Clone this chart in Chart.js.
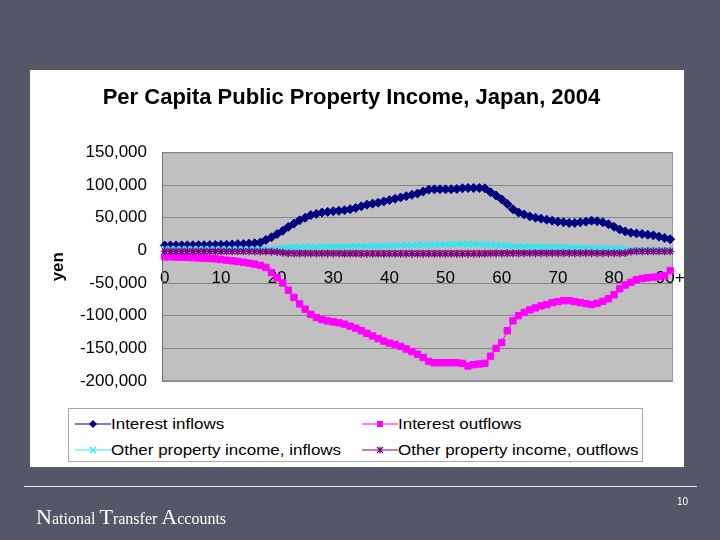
<!DOCTYPE html>
<html><head><meta charset="utf-8">
<script src="https://cdn.jsdelivr.net/npm/chart.js@4.4.0/dist/chart.umd.min.js"></script>
<style>
html,body{margin:0;padding:0;}
body{width:720px;height:540px;background:#555767;position:relative;overflow:hidden;font-family:"Liberation Sans",Arial,sans-serif;}
#c{position:absolute;left:0;top:0;}
#legend{position:absolute;left:68px;top:408px;width:575px;height:54px;border:1px solid #a8a8a8;background:#fff;box-sizing:border-box;}
.item{position:absolute;height:20px;display:flex;align-items:center;white-space:nowrap;}
.item svg{display:block;}
.item span{font-size:14.5px;color:#000;display:inline-block;transform:scaleX(1.17);transform-origin:left center;margin-left:0px;}
#rule{position:absolute;left:24px;top:486px;width:673px;height:1px;background:#e6e6e6;}
#nta{position:absolute;left:36px;top:504px;font-family:"Liberation Serif","Times New Roman",serif;color:#fff;font-size:16px;line-height:26px;white-space:nowrap;}
#nta b{font-weight:normal;font-size:22px;}
#pg{position:absolute;left:677px;top:496px;font-size:10px;color:#fff;}
</style></head>
<body>
<canvas id="c" width="720" height="540"></canvas>
<div id="legend">
  <div class="item" style="left:6px;top:5px;"><svg width="36" height="12"><line x1="0" y1="6" x2="36" y2="6" stroke="#000080" stroke-width="1.2"/><polygon points="18,2 22,6 18,10 14,6" fill="#000080"/></svg><span>Interest inflows</span></div>
  <div class="item" style="left:293px;top:5px;"><svg width="36" height="12"><line x1="0" y1="6" x2="36" y2="6" stroke="#ff00ff" stroke-width="1.2"/><rect x="15" y="3" width="6" height="6" fill="#ff00ff"/></svg><span>Interest outflows</span></div>
  <div class="item" style="left:6px;top:31px;"><svg width="36" height="12"><line x1="0" y1="6" x2="36" y2="6" stroke="#2ee6f0" stroke-width="1.2"/><path d="M15 3 L21 9 M21 3 L15 9" stroke="#2ee6f0" stroke-width="1.2"/></svg><span>Other property income, inflows</span></div>
  <div class="item" style="left:293px;top:31px;"><svg width="36" height="12"><line x1="0" y1="6" x2="36" y2="6" stroke="#800080" stroke-width="1.2"/><path d="M15 3 L21 9 M21 3 L15 9 M18 2.5 L18 9.5" stroke="#800080" stroke-width="1.2"/></svg><span>Other property income, outflows</span></div>
</div>
<div id="rule"></div>
<div id="nta"><b>N</b>ational <b>T</b>ransfer <b>A</b>ccounts</div>
<div id="pg">10</div>
<script>
const ageLabels = ['0','1','2','3','4','5','6','7','8','9','10','11','12','13','14','15','16','17','18','19','20','21','22','23','24','25','26','27','28','29','30','31','32','33','34','35','36','37','38','39','40','41','42','43','44','45','46','47','48','49','50','51','52','53','54','55','56','57','58','59','60','61','62','63','64','65','66','67','68','69','70','71','72','73','74','75','76','77','78','79','80','81','82','83','84','85','86','87','88','89','90+'];
const xTickLabels = ['0','10','20','30','40','50','60','70','80','90+'];

const interestInflows = [7500,7500,7600,7600,7700,7800,7800,7900,8000,8200,8400,8600,9000,9400,9800,10200,10800,12000,16000,20000,25000,30000,36000,41000,46000,50000,54000,56000,58000,59000,60000,60500,61500,63000,65000,67500,70000,71500,73000,75000,77000,79000,81000,83000,85000,87000,90000,93000,93500,93500,93500,93500,94000,95000,95500,95500,95500,95000,89000,84000,78000,71000,63000,58000,55000,52000,50000,48500,47000,45500,44000,43000,42000,42000,43000,44000,45500,44500,43000,40000,36000,32000,29000,27000,26000,25000,24000,23000,21000,19000,17000];
const interestOutflows = [-10000,-10000,-10200,-10500,-10800,-11200,-11600,-12000,-12500,-13000,-14000,-15000,-16000,-17000,-18000,-19500,-21000,-23000,-26000,-34000,-42000,-50000,-61000,-72000,-82000,-90000,-98000,-103000,-106000,-108000,-109500,-111000,-113000,-116000,-119000,-123000,-127000,-131000,-135000,-139000,-142000,-144000,-147000,-151000,-155000,-159000,-164000,-170000,-172000,-172000,-172000,-172000,-172000,-173000,-177000,-175000,-174000,-173000,-162000,-150000,-141000,-123000,-108000,-100000,-95000,-91000,-88000,-85000,-83000,-80000,-78500,-77000,-77000,-78500,-80000,-81500,-83000,-81000,-78000,-74000,-68000,-59000,-53000,-49000,-45000,-43000,-42000,-41000,-40000,-39000,-31000];
const otherInflows = [2000,2000,2000,2000,2000,2000,2000,2000,2000,2000,2000,2000,2000,2000,2000,2000,2000,2000,2000,2200,2500,3500,5000,5200,5400,5500,5600,5700,5800,6000,6000,6100,6200,6300,6400,6500,6600,6700,6800,7000,7200,7400,7600,7800,8000,8200,8400,8600,8800,9000,9200,9300,9400,9500,9500,9400,9300,9000,8500,8000,7500,7000,6500,6200,6000,5800,5600,5500,5400,5300,5200,5000,4800,4500,4200,4000,3800,3600,3400,3200,3000,2800,2500,1000,800,800,700,700,600,600,500];
const otherOutflows = [-1500,-1500,-1500,-1500,-1500,-1500,-1500,-1500,-1500,-1500,-1500,-1500,-1500,-1500,-1500,-1500,-1600,-1700,-1800,-2000,-2500,-3500,-4500,-4600,-4700,-4700,-4800,-4800,-4800,-4800,-4800,-4800,-4900,-4900,-4900,-5000,-5000,-5000,-5000,-5000,-5000,-5000,-5000,-5000,-5000,-5000,-5000,-5000,-5000,-5000,-5000,-5000,-5000,-5000,-5000,-5000,-5000,-4900,-4800,-4700,-4600,-4500,-4500,-4400,-4400,-4400,-4300,-4300,-4300,-4300,-4300,-4300,-4300,-4300,-4300,-4300,-4300,-4300,-4300,-4300,-4300,-4300,-4000,-2000,-1500,-1500,-1500,-1500,-1500,-1500,-1500];

const bgPlugin = {
  id: 'bg',
  beforeDraw(chart) {
    const {ctx, chartArea: a} = chart;
    ctx.save();
    ctx.fillStyle = '#ffffff';
    ctx.fillRect(30, 70, 654, 397);
    ctx.fillStyle = '#c0c0c0';
    ctx.fillRect(a.left, a.top, a.right - a.left, a.bottom - a.top);
    ctx.strokeStyle = '#9a9a9a';
    ctx.lineWidth = 1;
    ctx.strokeRect(a.left + 0.5, a.top + 0.5, a.right - a.left - 1, a.bottom - a.top - 1);
    ctx.restore();
  }
};

new Chart(document.getElementById('c'), {
  type: 'line',
  data: {
    labels: ageLabels,
    datasets: [
      {label: 'Interest inflows', data: interestInflows, borderColor: '#000080', backgroundColor: '#000080', pointBackgroundColor: '#000080', pointBorderColor: '#000080', borderWidth: 1, pointStyle: 'rectRot', pointRadius: 4.5, pointBorderWidth: 1, order: 4},
      {label: 'Interest outflows', data: interestOutflows, borderColor: '#ff00ff', backgroundColor: '#ff00ff', pointBackgroundColor: '#ff00ff', pointBorderColor: '#ff00ff', borderWidth: 1, pointStyle: 'rect', pointRadius: 4.5, pointBorderWidth: 1, order: 3},
      {label: 'Other property income, inflows', data: otherInflows, borderColor: '#2ee6f0', backgroundColor: '#2ee6f0', pointBorderColor: '#2ee6f0', borderWidth: 1.5, pointStyle: 'crossRot', pointRadius: 4, pointBorderWidth: 1.8, order: 2},
      {label: 'Other property income, outflows', data: otherOutflows, borderColor: '#800080', backgroundColor: '#800080', pointBorderColor: '#800080', borderWidth: 1, pointStyle: 'star', pointRadius: 4, pointBorderWidth: 1.4, order: 1}
    ]
  },
  options: {
    responsive: false,
    animation: false,
    events: [],
    elements: {line: {tension: 0}},
    layout: {padding: {left: 30, top: 70, right: 47, bottom: 159}},
    plugins: {
      legend: {display: false},
      tooltip: {enabled: false},
      title: {
        display: true,
        text: 'Per Capita Public Property Income, Japan, 2004',
        color: '#000',
        font: {family: '"Liberation Sans", Arial, sans-serif', size: 22, weight: 'bold'},
        padding: {top: 15, bottom: 41}
      }
    },
    scales: {
      x: {
        type: 'category',
        offset: true,
        position: {y: 0},
        grid: {display: false, drawTicks: false},
        border: {display: false},
        ticks: {
          autoSkip: false, maxRotation: 0, padding: 18, color: '#000',
          font: {family: '"Liberation Sans", Arial, sans-serif', size: 17},
          callback: function(v, i) { const l = ageLabels[i]; return xTickLabels.includes(l) ? l : null; }
        }
      },
      y: {
        min: -200000, max: 150000,
        grid: {color: '#858585', drawTicks: false},
        border: {color: '#707070'},
        ticks: {
          stepSize: 50000, padding: 15, color: '#000',
          font: {family: '"Liberation Sans", Arial, sans-serif', size: 17},
          callback: v => v.toLocaleString('en-US')
        },
        title: {display: true, text: 'yen', color: '#000', font: {family: '"Liberation Sans", Arial, sans-serif', size: 17, weight: 'bold'}, padding: {top: 18, bottom: 0}},
        afterFit: s => { s.width = 132; }
      }
    }
  },
  plugins: [bgPlugin]
});
</script>
</body></html>
